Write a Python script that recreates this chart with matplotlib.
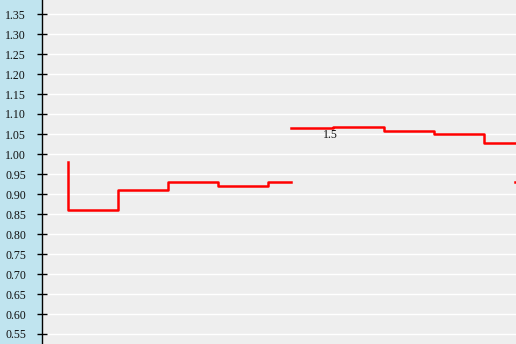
import matplotlib
matplotlib.use("Agg")
import matplotlib.pyplot as plt
import numpy as np

# Data
series1_x = [0.0, 0.0, 1.0, 2.0, 3.0, 4.0, 4.46]
series1_y = [0.98, 0.86, 0.91, 0.93, 0.92, 0.93, 0.93]
series2_x = [4.46, 5.3, 6.32, 7.32, 8.32, 8.94]
series2_y = [1.065, 1.068, 1.058, 1.049, 1.028, 1.028]
series3_x = [8.94, 9.5]
series3_y = [0.93, 0.93]
y_ticks = [0.55, 0.60, 0.65, 0.70, 0.75, 0.80, 0.85, 0.90, 0.95, 1.00,
           1.05, 1.10, 1.15, 1.20, 1.25, 1.30, 1.35]
label_text = "1.5"
label_x = 5.24
label_y = 1.0475

W, H = 516, 344
fig = plt.figure(figsize=(W / 100, H / 100), dpi=100, facecolor="#c0e4ef")
ax = fig.add_axes([42 / W, 0, 1 - 42 / W, 1])
ax.set_facecolor("#eeeeee")

ax.set_xlim((42 - 68) / 50, (516 - 68) / 50)
ax.set_ylim(1.35 - (344 - 14) / 400, 1.35 + 14 / 400)

ax.set_yticks(y_ticks)
ax.set_yticklabels([f"{v:.2f}" for v in y_ticks], family="Liberation Serif",
                   fontsize=8.6, color="#111111")
ax.tick_params(axis="y", direction="inout", length=7, width=1, color="black", pad=8)
ax.set_xticks([])
ax.yaxis.grid(True, color="white", linewidth=1)
ax.set_axisbelow(True)

for s in ["top", "right", "bottom"]:
    ax.spines[s].set_visible(False)
ax.spines["left"].set_color("black")
ax.spines["left"].set_linewidth(1)

for xs, ys in [(series1_x, series1_y), (series2_x, series2_y), (series3_x, series3_y)]:
    ax.step(xs, ys, where="post", color="#ff0000", linewidth=1.8, zorder=3)

ax.text(label_x, label_y, label_text, family="Liberation Serif", fontsize=8.6,
        color="#111111", ha="center", va="center", zorder=4)

fig.savefig("out.png", dpi=100, facecolor=fig.get_facecolor())
